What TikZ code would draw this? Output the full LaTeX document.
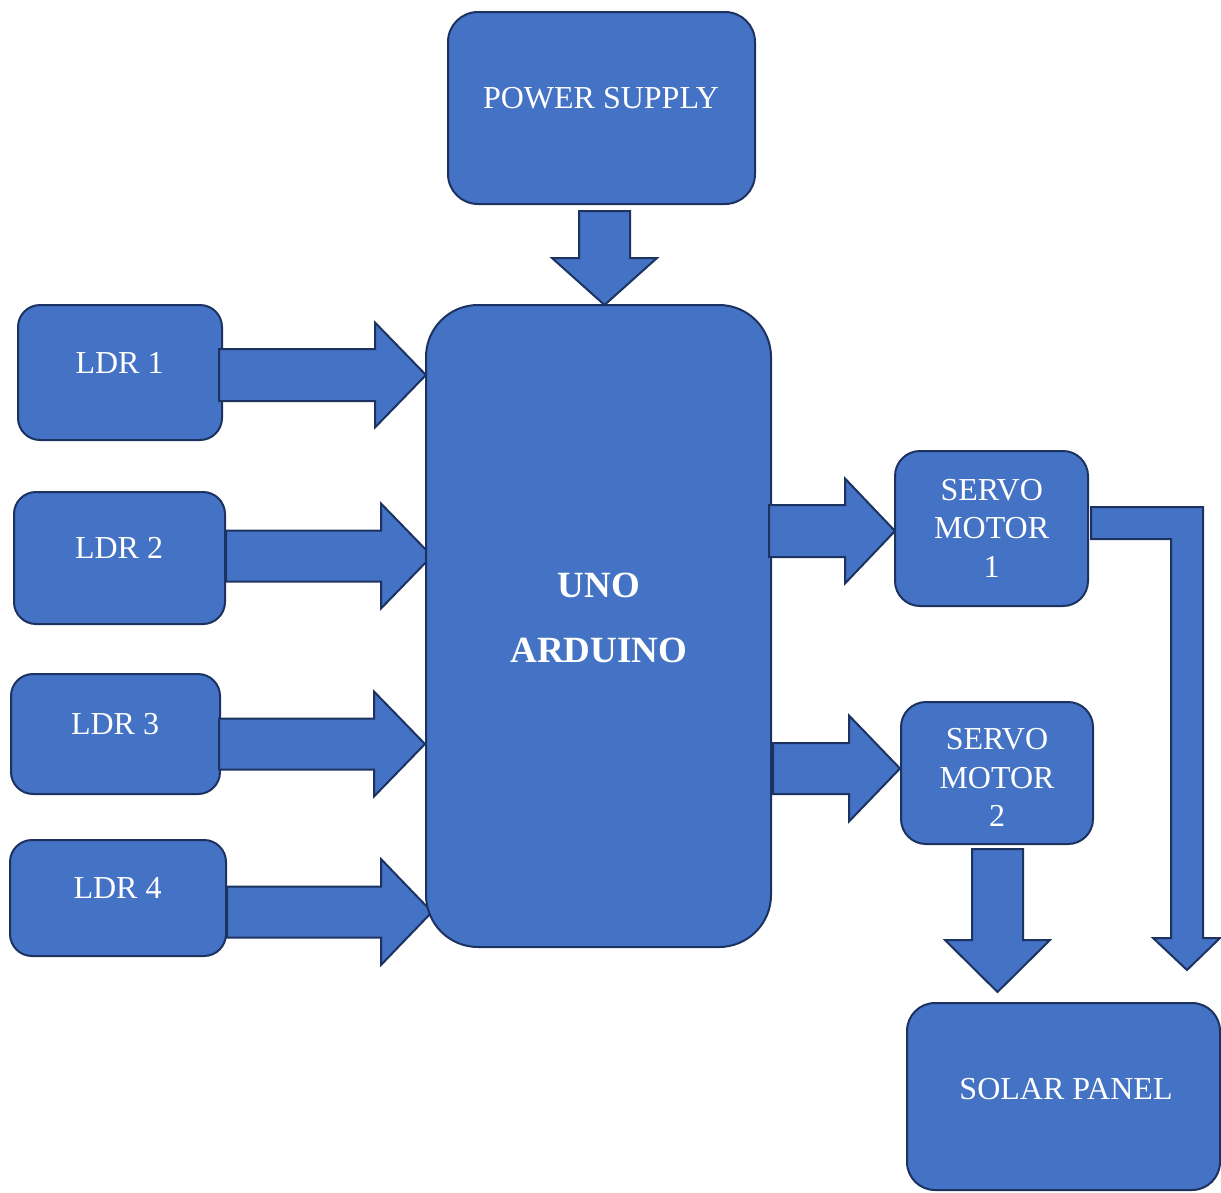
\documentclass[tikz,border=0pt]{standalone}
\usepackage{fontspec}
\setmainfont{Liberation Serif}
\usetikzlibrary{calc}
\definecolor{boxfill}{HTML}{4472C4}
\definecolor{boxline}{HTML}{1C3260}
\tikzset{
  blk/.style={draw=boxline, fill=boxfill, line width=2pt, line join=miter},
  box/.style={blk, rectangle, inner sep=0pt},
  lbl/.style={text=white, inner sep=0pt, font=\fontsize{32}{38.5}\selectfont, align=center},
  blbl/.style={text=white, inner sep=0pt, font=\fontsize{37}{44}\selectfont\bfseries},
}
% right-pointing block arrow: tail, tip, shaft half width, head half width, head length
\newcommand\RArrow[5]{%
  \draw[blk] ($(#1)+(0,-#3)$) -- ($(#2)+(-#5,-#3)$) -- ($(#2)+(-#5,-#4)$) -- (#2)
    -- ($(#2)+(-#5,#4)$) -- ($(#2)+(-#5,#3)$) -- ($(#1)+(0,#3)$) -- cycle;}
% down-pointing block arrow
\newcommand\DArrow[5]{%
  \draw[blk] ($(#1)+(-#3,0)$) -- ($(#1)+(#3,0)$) -- ($(#2)+(#3,-#5)$) -- ($(#2)+(#4,-#5)$)
    -- (#2) -- ($(#2)+(-#4,-#5)$) -- ($(#2)+(-#3,-#5)$) -- cycle;}
\begin{document}
\begin{tikzpicture}[x=1pt,y=-1pt]
\useasboundingbox (0,0) rectangle (1221,1192);

% LDR boxes
\node[box, rounded corners=22pt, minimum width=204pt, minimum height=135pt] (ldr1) at (120,372.5) {};
\node[box, rounded corners=22pt, minimum width=211pt, minimum height=132pt] (ldr2) at (119.5,558) {};
\node[box, rounded corners=22pt, minimum width=209pt, minimum height=120pt] (ldr3) at (115.5,734) {};
\node[box, rounded corners=22pt, minimum width=216pt, minimum height=116pt] (ldr4) at (118,898) {};
\node[lbl, anchor=base] (ldr1t) at (119.5,373) {LDR 1};
\node[lbl, anchor=base] (ldr2t) at (119,558) {LDR 2};
\node[lbl, anchor=base] (ldr3t) at (115,734) {LDR 3};
\node[lbl, anchor=base] (ldr4t) at (117.5,898) {LDR 4};

% LDR arrows
\coordinate (a1s) at (219,375);   \coordinate (a1t) at (426,375);
\coordinate (a2s) at (226,556);   \coordinate (a2t) at (432,556);
\coordinate (a3s) at (219,744);   \coordinate (a3t) at (425,744);
\coordinate (a4s) at (227,912);   \coordinate (a4t) at (432,912);
\RArrow{a1s}{a1t}{26}{52.5}{51}
\RArrow{a2s}{a2t}{25.5}{52.5}{51}
\RArrow{a3s}{a3t}{25.5}{52.5}{51}
\RArrow{a4s}{a4t}{25.5}{53}{51}

% Power supply
\node[box, rounded corners=30pt, minimum width=307pt, minimum height=192pt] (ps) at (601.5,108) {};
\node[lbl, anchor=base] (pst) at (601,108) {POWER SUPPLY};
\coordinate (pas) at (604.5,211); \coordinate (pat) at (604.5,305);
\DArrow{pas}{pat}{25.5}{52.5}{47}

% Arduino
\node[box, rounded corners=52pt, minimum width=345pt, minimum height=642pt] (ard) at (598.5,626) {};
\node[blbl, anchor=base] (ardt1) at (599,597) {UNO};
\node[blbl, anchor=base] (ardt2) at (598.7,662) {ARDUINO};

% servo arrows
\coordinate (s1s) at (769,531);   \coordinate (s1t) at (895,531);
\coordinate (s2s) at (773,768.5); \coordinate (s2t) at (900,768.5);
\RArrow{s1s}{s1t}{26}{52.5}{50}
\RArrow{s2s}{s2t}{25.5}{53}{51}

% servo boxes
\node[box, rounded corners=25pt, minimum width=193pt, minimum height=155pt] (sv1) at (991.5,528.5) {};
\node[box, rounded corners=25pt, minimum width=192pt, minimum height=142pt] (sv2) at (997,773) {};
\node[lbl] (sv1t) at (991.7,528) {SERVO\\MOTOR\\1};
\node[lbl] (sv2t) at (997,777.5) {SERVO\\MOTOR\\2};

% bent arrow from servo 1 to solar panel side
\draw[blk] (1091,507) -- (1203,507) -- (1203,938) -- (1220,938) -- (1187,970)
  -- (1153,938) -- (1171,938) -- (1171,539) -- (1091,539) -- cycle;

% servo 2 to solar panel
\coordinate (sps) at (997.5,849); \coordinate (spt) at (997.5,992);
\DArrow{sps}{spt}{25.5}{52.5}{52}

% Solar panel
\node[box, rounded corners=28pt, minimum width=313pt, minimum height=187pt] (sol) at (1063.5,1096.5) {};
\node[lbl, anchor=base] (solt) at (1066,1099) {SOLAR PANEL};
\end{tikzpicture}
\end{document}
